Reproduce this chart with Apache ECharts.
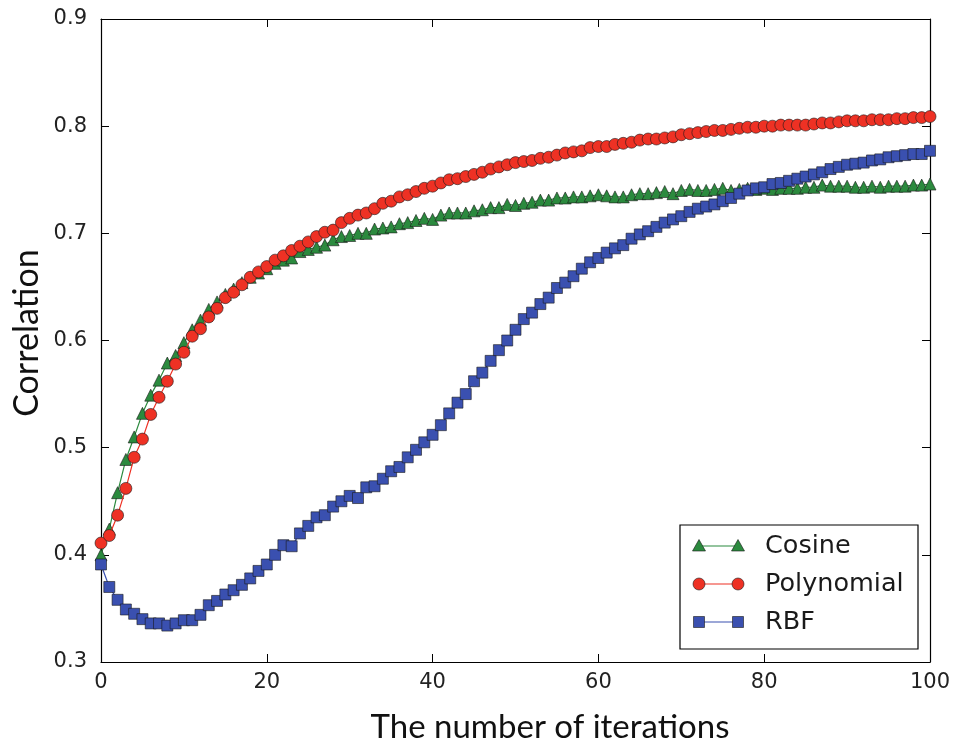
<!DOCTYPE html>
<html>
<head>
<meta charset="utf-8">
<script src="https://cdn.jsdelivr.net/npm/echarts@6/dist/echarts.min.js"></script>
<style>
html,body{margin:0;padding:0;background:#fff;}
#chart{width:954px;height:744px;}
</style>
</head>
<body>
<div id="chart"></div>
<script>
var iterations = Array.from({length: 101}, function (_, i) { return i; });
var xTicks = [0, 20, 40, 60, 80, 100];
var yTicks = [0.3, 0.4, 0.5, 0.6, 0.7, 0.8, 0.9];
var seriesNames = ['Cosine', 'Polynomial', 'RBF'];

var cosine = [
0.400,0.424,0.458,0.489,0.510,0.532,0.549,0.563,0.579,0.586,
0.598,0.610,0.619,0.629,0.636,0.643,0.648,0.654,0.659,0.663,
0.667,0.672,0.675,0.677,0.683,0.685,0.687,0.689,0.694,0.697,
0.698,0.700,0.700,0.704,0.705,0.706,0.709,0.710,0.712,0.714,
0.713,0.717,0.719,0.719,0.719,0.721,0.722,0.724,0.724,0.727,
0.726,0.728,0.729,0.731,0.731,0.733,0.733,0.734,0.734,0.735,
0.736,0.735,0.734,0.734,0.736,0.737,0.737,0.738,0.739,0.737,
0.740,0.741,0.740,0.740,0.741,0.742,0.740,0.741,0.742,0.741,
0.742,0.741,0.742,0.742,0.742,0.743,0.743,0.745,0.744,0.744,
0.744,0.743,0.743,0.744,0.743,0.744,0.744,0.744,0.745,0.745,
0.746];

var polynomial = [
0.411,0.418,0.437,0.462,0.491,0.508,0.531,0.547,0.562,0.578,
0.589,0.604,0.611,0.622,0.630,0.640,0.645,0.652,0.659,0.664,
0.669,0.675,0.679,0.684,0.688,0.692,0.697,0.701,0.703,0.710,
0.714,0.717,0.719,0.723,0.728,0.730,0.734,0.736,0.739,0.742,
0.744,0.747,0.750,0.751,0.753,0.755,0.757,0.760,0.762,0.764,
0.766,0.767,0.768,0.770,0.771,0.773,0.775,0.776,0.777,0.780,
0.781,0.781,0.783,0.784,0.785,0.787,0.788,0.788,0.789,0.790,
0.792,0.793,0.794,0.795,0.796,0.796,0.797,0.798,0.799,0.799,
0.800,0.800,0.801,0.801,0.801,0.801,0.802,0.803,0.803,0.804,
0.805,0.805,0.805,0.806,0.806,0.806,0.807,0.807,0.808,0.808,
0.809];

var rbf = [
0.391,0.370,0.358,0.349,0.345,0.340,0.336,0.336,0.334,0.336,
0.339,0.339,0.344,0.353,0.357,0.363,0.367,0.372,0.378,0.385,
0.391,0.400,0.409,0.408,0.420,0.427,0.435,0.437,0.445,0.450,
0.455,0.453,0.463,0.464,0.471,0.478,0.482,0.491,0.498,0.505,
0.512,0.521,0.532,0.542,0.550,0.562,0.570,0.581,0.591,0.600,
0.610,0.620,0.626,0.634,0.640,0.649,0.654,0.660,0.667,0.673,
0.677,0.682,0.686,0.689,0.695,0.699,0.702,0.706,0.710,0.713,
0.716,0.720,0.723,0.725,0.727,0.730,0.733,0.737,0.740,0.742,
0.743,0.746,0.747,0.749,0.751,0.753,0.755,0.757,0.760,0.762,
0.764,0.765,0.766,0.768,0.769,0.771,0.772,0.773,0.774,0.774,
0.777];

var colors = ['#2b8a3e', '#ee3124', '#3a50b0'];
var symbols = ['triangle', 'circle', 'rect'];
var symbolSizes = [12, 12, 11];
var values = [cosine, polynomial, rbf];

function pairs(arr) {
  return arr.map(function (v, i) { return [iterations[i], v]; });
}

var chart = echarts.init(document.getElementById('chart'), null, {renderer: 'canvas'});

var tickFont = 'DejaVu Sans';
var axisLineStyle = {color: '#000', width: 1.2};

var series = seriesNames.map(function (name, k) {
  return {
    name: name,
    type: 'line',
    data: pairs(values[k]),
    symbol: symbols[k],
    symbolSize: symbolSizes[k],
    showAllSymbol: true,
    smooth: false,
    animation: false,
    lineStyle: {color: colors[k], width: 1.2},
    itemStyle: {color: colors[k], borderColor: '#1a1a1a', borderWidth: 0.6},
    emphasis: {disabled: true},
    z: 2 + k
  };
});

// legend drawn as graphic (matplotlib style with markers at both ends)
var legendX = 680, legendY = 525, legendW = 238, legendH = 124;
var legendRows = [546, 584, 622];
var legendChildren = [{
  type: 'rect',
  shape: {x: legendX, y: legendY, width: legendW, height: legendH},
  style: {fill: '#fff', stroke: '#000', lineWidth: 1.2},
  z: 100
}];
seriesNames.forEach(function (name, k) {
  var y = legendRows[k];
  var x1 = 699, x2 = 738;
  legendChildren.push({
    type: 'line', shape: {x1: x1, y1: y, x2: x2, y2: y},
    style: {stroke: colors[k], lineWidth: 1.2}, z: 101
  });
  [x1, x2].forEach(function (cx) {
    var m;
    if (k === 0) {
      m = {type: 'polygon', shape: {points: [[cx, y - 6.5], [cx - 6.5, y + 5], [cx + 6.5, y + 5]]}};
    } else if (k === 1) {
      m = {type: 'circle', shape: {cx: cx, cy: y, r: 6}};
    } else {
      m = {type: 'rect', shape: {x: cx - 5.5, y: y - 5.5, width: 11, height: 11}};
    }
    m.style = {fill: colors[k], stroke: '#1a1a1a', lineWidth: 0.6};
    m.z = 102;
    legendChildren.push(m);
  });
  legendChildren.push({
    type: 'text',
    style: {x: 765, y: y, text: name, fill: '#1a1a1a', font: '25.5px "DejaVu Sans"', textVerticalAlign: 'middle', textAlign: 'left'},
    z: 103
  });
});

var option = {
  backgroundColor: '#fff',
  animation: false,
  color: colors,
  grid: {left: 101, right: 24, top: 19, bottom: 82, show: false, containLabel: false},
  xAxis: [{
    type: 'value', min: 0, max: 100, interval: 20, position: 'bottom',
    axisLine: {show: true, onZero: false, lineStyle: axisLineStyle},
    axisTick: {show: true, inside: true, length: 8, lineStyle: {color: '#000', width: 1}},
    axisLabel: {show: true, margin: 10, color: '#222', fontFamily: tickFont, fontSize: 21,
      formatter: function (v) { return xTicks.indexOf(v) >= 0 ? String(v) : ''; }},
    splitLine: {show: false}
  }, {
    type: 'value', min: 0, max: 100, interval: 20, position: 'top',
    axisLine: {show: true, onZero: false, lineStyle: axisLineStyle},
    axisTick: {show: true, inside: true, length: 8, lineStyle: {color: '#000', width: 1}},
    axisLabel: {show: false}, splitLine: {show: false}
  }],
  yAxis: [{
    type: 'value', min: 0.3, max: 0.9, interval: 0.1, position: 'left',
    axisLine: {show: true, onZero: false, lineStyle: axisLineStyle},
    axisTick: {show: true, inside: true, length: 8, lineStyle: {color: '#000', width: 1}},
    axisLabel: {show: true, margin: 14, color: '#222', fontFamily: tickFont, fontSize: 21,
      formatter: function (v) {
        var r = Math.round(v * 10) / 10;
        return yTicks.indexOf(r) >= 0 ? r.toFixed(1) : '';
      }},
    splitLine: {show: false}
  }, {
    type: 'value', min: 0.3, max: 0.9, interval: 0.1, position: 'right',
    axisLine: {show: true, onZero: false, lineStyle: axisLineStyle},
    axisTick: {show: true, inside: true, length: 8, lineStyle: {color: '#000', width: 1}},
    axisLabel: {show: false}, splitLine: {show: false}
  }],
  series: series,
  graphic: [
    {
      type: 'text',
      style: {x: 550, y: 727, text: 'The number of iterations', fill: '#111',
        font: '33px Lato', textAlign: 'center', textVerticalAlign: 'middle'}
    },
    {
      type: 'text',
      x: 27, y: 333, rotation: Math.PI / 2,
      style: {x: 0, y: 0, text: 'Correlation', fill: '#111',
        font: '34px Lato', textAlign: 'center', textVerticalAlign: 'middle'}
    },
    {type: 'group', children: legendChildren}
  ]
};

chart.setOption(option);
</script>
</body>
</html>
